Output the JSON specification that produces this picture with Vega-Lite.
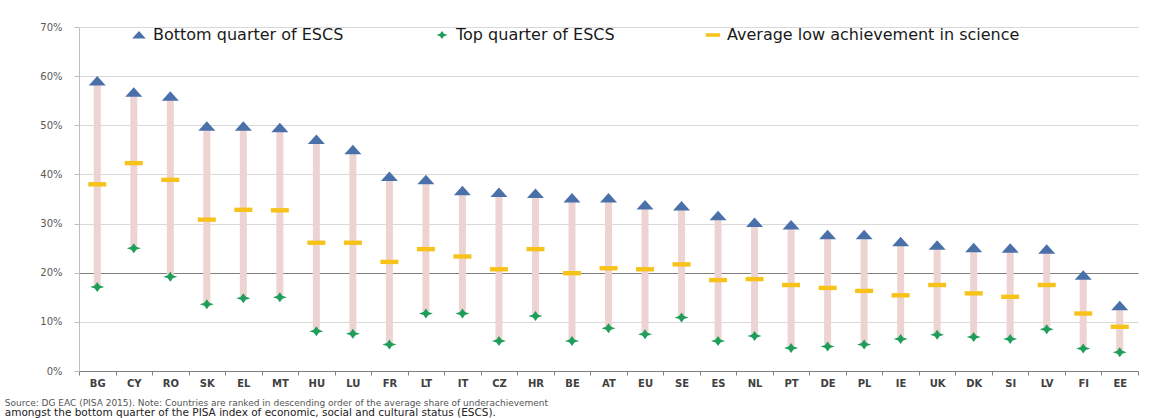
{
  "$schema": "https://vega.github.io/schema/vega-lite/v6.json",
  "width": 1059,
  "height": 344,
  "autosize": {"type": "none"},
  "padding": {"left": 79, "top": 27, "right": 17, "bottom": 47},
  "background": "white",
  "config": {
    "view": {"stroke": null},
    "font": "DejaVu Sans"
  },
  "title": {
    "text": "Source: DG EAC (PISA 2015). Note: Countries are ranked in descending order of the average share of underachievement",
    "subtitle": "amongst the bottom quarter of the PISA index of economic, social and cultural status (ESCS).",
    "orient": "bottom",
    "anchor": "start",
    "font": "DejaVu Sans",
    "fontSize": 9,
    "fontWeight": "normal",
    "color": "#555555",
    "subtitleFont": "DejaVu Sans",
    "subtitleFontSize": 10.5,
    "subtitleColor": "#222222",
    "subtitlePadding": 0,
    "offset": 11,
    "dx": -35
  },
  "data": {
    "values": [
      {"c": "BG", "Bottom quarter of ESCS": 59.0, "Top quarter of ESCS": 17.1, "Average low achievement in science": 38.0},
      {"c": "CY", "Bottom quarter of ESCS": 56.7, "Top quarter of ESCS": 25.0, "Average low achievement in science": 42.3},
      {"c": "RO", "Bottom quarter of ESCS": 55.9, "Top quarter of ESCS": 19.2, "Average low achievement in science": 38.9},
      {"c": "SK", "Bottom quarter of ESCS": 49.8, "Top quarter of ESCS": 13.6, "Average low achievement in science": 30.8},
      {"c": "EL", "Bottom quarter of ESCS": 49.8, "Top quarter of ESCS": 14.8, "Average low achievement in science": 32.8},
      {"c": "MT", "Bottom quarter of ESCS": 49.5, "Top quarter of ESCS": 15.0, "Average low achievement in science": 32.7},
      {"c": "HU", "Bottom quarter of ESCS": 47.1, "Top quarter of ESCS": 8.1, "Average low achievement in science": 26.1},
      {"c": "LU", "Bottom quarter of ESCS": 45.0, "Top quarter of ESCS": 7.6, "Average low achievement in science": 26.1},
      {"c": "FR", "Bottom quarter of ESCS": 39.6, "Top quarter of ESCS": 5.4, "Average low achievement in science": 22.2},
      {"c": "LT", "Bottom quarter of ESCS": 38.9, "Top quarter of ESCS": 11.7, "Average low achievement in science": 24.8},
      {"c": "IT", "Bottom quarter of ESCS": 36.7, "Top quarter of ESCS": 11.7, "Average low achievement in science": 23.3},
      {"c": "CZ", "Bottom quarter of ESCS": 36.3, "Top quarter of ESCS": 6.1, "Average low achievement in science": 20.7},
      {"c": "HR", "Bottom quarter of ESCS": 36.1, "Top quarter of ESCS": 11.2, "Average low achievement in science": 24.8},
      {"c": "BE", "Bottom quarter of ESCS": 35.2, "Top quarter of ESCS": 6.1, "Average low achievement in science": 19.9},
      {"c": "AT", "Bottom quarter of ESCS": 35.2, "Top quarter of ESCS": 8.7, "Average low achievement in science": 20.9},
      {"c": "EU", "Bottom quarter of ESCS": 33.8, "Top quarter of ESCS": 7.5, "Average low achievement in science": 20.7},
      {"c": "SE", "Bottom quarter of ESCS": 33.6, "Top quarter of ESCS": 10.9, "Average low achievement in science": 21.7},
      {"c": "ES", "Bottom quarter of ESCS": 31.6, "Top quarter of ESCS": 6.1, "Average low achievement in science": 18.5},
      {"c": "NL", "Bottom quarter of ESCS": 30.2, "Top quarter of ESCS": 7.1, "Average low achievement in science": 18.7},
      {"c": "PT", "Bottom quarter of ESCS": 29.7, "Top quarter of ESCS": 4.7, "Average low achievement in science": 17.5},
      {"c": "DE", "Bottom quarter of ESCS": 27.7, "Top quarter of ESCS": 5.0, "Average low achievement in science": 16.9},
      {"c": "PL", "Bottom quarter of ESCS": 27.7, "Top quarter of ESCS": 5.4, "Average low achievement in science": 16.3},
      {"c": "IE", "Bottom quarter of ESCS": 26.3, "Top quarter of ESCS": 6.5, "Average low achievement in science": 15.4},
      {"c": "UK", "Bottom quarter of ESCS": 25.6, "Top quarter of ESCS": 7.4, "Average low achievement in science": 17.5},
      {"c": "DK", "Bottom quarter of ESCS": 25.1, "Top quarter of ESCS": 6.9, "Average low achievement in science": 15.8},
      {"c": "SI", "Bottom quarter of ESCS": 25.0, "Top quarter of ESCS": 6.5, "Average low achievement in science": 15.1},
      {"c": "LV", "Bottom quarter of ESCS": 24.8, "Top quarter of ESCS": 8.5, "Average low achievement in science": 17.5},
      {"c": "FI", "Bottom quarter of ESCS": 19.5, "Top quarter of ESCS": 4.6, "Average low achievement in science": 11.7},
      {"c": "EE", "Bottom quarter of ESCS": 13.3, "Top quarter of ESCS": 3.8, "Average low achievement in science": 9.0}
    ]
  },
  "encoding": {
    "x": {
      "field": "c",
      "type": "nominal",
      "sort": null,
      "title": null,
      "scale": {"paddingInner": 0, "paddingOuter": 0},
      "axis": {
        "labelAngle": 0,
        "labelFont": "DejaVu Sans",
        "labelFontSize": 10,
        "labelFontWeight": "bold",
        "labelColor": "#404040",
        "labelPadding": 3,
        "tickBand": "extent",
        "tickSize": 4,
        "tickColor": "#808080",
        "domainColor": "#808080",
        "grid": false
      }
    }
  },
  "layer": [
    {
      "mark": {"type": "rule", "strokeWidth": 7, "color": "#eed3d3"},
      "encoding": {
        "y": {"field": "Top quarter of ESCS", "type": "quantitative"},
        "y2": {"field": "Bottom quarter of ESCS"}
      }
    },
    {
      "transform": [
        {"fold": ["Average low achievement in science", "Bottom quarter of ESCS", "Top quarter of ESCS"], "as": ["series", "value"]}
      ],
      "mark": {"type": "point", "filled": true, "opacity": 1, "size": 400, "strokeWidth": 0},
      "encoding": {
        "y": {
          "field": "value",
          "type": "quantitative",
          "title": null,
          "scale": {"domain": [0, 70], "nice": false},
          "axis": {
            "values": [0, 10, 20, 30, 40, 50, 60, 70],
            "labelExpr": "datum.value + '%'",
            "labelFont": "DejaVu Sans",
            "labelFontSize": 10,
            "labelColor": "#595959",
            "labelPadding": 12,
            "tickSize": 5,
            "tickColor": "#bfbfbf",
            "domainColor": "#bfbfbf",
            "grid": true,
            "gridColor": {"condition": {"test": "datum.value === 20", "value": "#7f7f7f"}, "value": "#d9d9d9"},
            "gridWidth": 1
          }
        },
        "color": {
          "field": "series",
          "type": "nominal",
          "scale": {
            "domain": ["Bottom quarter of ESCS", "Top quarter of ESCS", "Average low achievement in science"],
            "range": ["#4a70aa", "#1f9e5a", "#f7c21a"]
          },
          "legend": {
            "title": null,
            "orient": "none",
            "legendX": 52,
            "legendY": 0,
            "direction": "horizontal",
            "columns": 3,
            "columnPadding": 90,
            "labelFont": "DejaVu Sans",
            "labelFontSize": 16,
            "labelColor": "#1a1a1a",
            "labelOffset": 6,
            "labelLimit": 500,
            "symbolSize": 256,
            "symbolStrokeWidth": 0
          }
        },
        "shape": {
          "field": "series",
          "type": "nominal",
          "scale": {
            "domain": ["Bottom quarter of ESCS", "Top quarter of ESCS", "Average low achievement in science"],
            "range": [
              "M-0.85,0.45L0.85,0.45L0,-0.5Z",
              "M0,-0.5L0.25,-0.15L0.7,0L0.25,0.15L0,0.5L-0.25,0.15L-0.7,0L-0.25,-0.15Z",
              "M-0.9,-0.22H0.9V0.22H-0.9Z"
            ]
          }
        },
        "order": {"field": "series", "sort": "ascending"}
      }
    }
  ]
}
